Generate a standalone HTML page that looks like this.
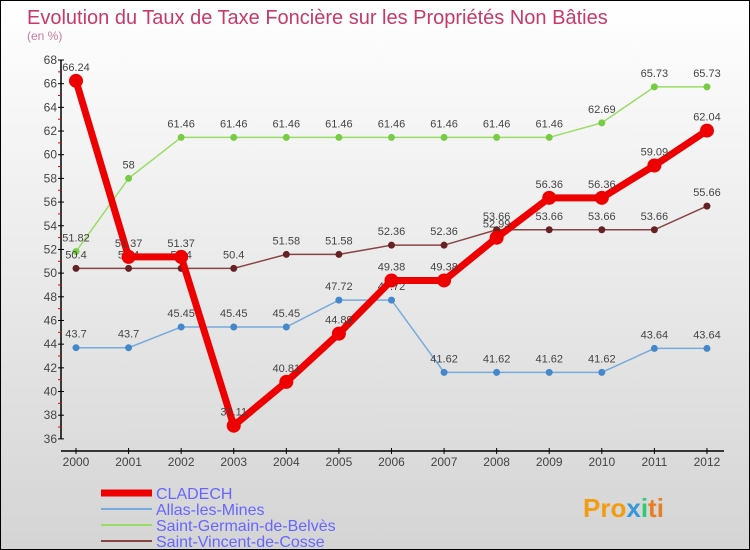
<!DOCTYPE html>
<html><head><meta charset="utf-8"><style>
body{margin:0}
#c{width:750px;height:550px;position:relative;box-sizing:border-box;border:1px solid #000;background:linear-gradient(#ffffff,#d4d4d4);overflow:hidden;font-family:"Liberation Sans",sans-serif}
</style></head><body>
<div id="c">
<svg id="s" width="748" height="548" xmlns="http://www.w3.org/2000/svg">
<text x="26" y="23" font-size="20" fill="#c8396a">Evolution du Taux de Taxe Foncière sur les Propriétés Non Bâties</text>
<text x="26" y="39" font-size="12" fill="#c87a9a">(en %)</text>
<g id="axes"></g><g id="series"></g><g id="legend"></g>
<text x="582" y="516" font-size="26" font-weight="bold" fill="#f39c12">Pro<tspan fill="#3498db">x</tspan><tspan fill="#2ecc71">i</tspan><tspan fill="#e67e22">ti</tspan></text>
</svg></div>
<script>
const years=["2000","2001","2002","2003","2004","2005","2006","2007","2008","2009","2010","2011","2012"];
const yTicks=[36,38,40,42,44,46,48,50,52,54,56,58,60,62,64,66,68];
const cladech=[66.24,51.37,51.37,37.11,40.81,44.89,49.38,49.38,52.99,56.36,56.36,59.09,62.04];
const allas=[43.7,43.7,45.45,45.45,45.45,47.72,47.72,41.62,41.62,41.62,41.62,43.64,43.64];
const germain=[51.82,58,61.46,61.46,61.46,61.46,61.46,61.46,61.46,61.46,62.69,65.73,65.73];
const vincent=[50.4,50.4,50.4,50.4,51.58,51.58,52.36,52.36,53.66,53.66,53.66,53.66,55.66];
const names=["CLADECH","Allas-les-Mines","Saint-Germain-de-Belvès","Saint-Vincent-de-Cosse"];
const NS="http://www.w3.org/2000/svg";
const X=i=>75+i*52.58, Y=v=>59+(68-v)*11.84;
function mk(t,a,p){const e=document.createElementNS(NS,t);for(const k in a)e.setAttribute(k,a[k]);p.appendChild(e);return e;}
const ax=document.getElementById('axes');
let l=mk('line',{x1:60,y1:Y(68),x2:60,y2:Y(36),stroke:'#000','stroke-width':1.5},ax);


l=mk('line',{x1:60,y1:450,x2:723,y2:450,stroke:'#000','stroke-width':1.5},ax);


yTicks.forEach(v=>{
 mk('line',{x1:57,x2:63,y1:Y(v),y2:Y(v),stroke:'#000'},ax);
 if(v<68)mk('line',{x1:57,x2:60,y1:Y(v+1),y2:Y(v+1),stroke:'#e00'},ax);
 const t=mk('text',{x:56,y:Y(v)+4,'font-size':12,'text-anchor':'end',fill:'#444'},ax);t.textContent=v;
 
 
});
years.forEach((y,i)=>{
 mk('line',{x1:X(i),x2:X(i),y1:447,y2:453,stroke:'#000'},ax);
 const t=mk('text',{x:X(i),y:465,'font-size':12,'text-anchor':'middle',fill:'#444'},ax);t.textContent=y;
 
 
});
const sg=document.getElementById('series');
const defs=[[germain,'#99dd66','#77cc44',1.5,3.5,'saint-germain'],[allas,'#77aadd','#4488cc',1.5,3.5,'allas'],[vincent,'#884444','#662222',1.5,3.5,'saint-vincent'],[cladech,'#ee0000','#ee0000',7,7,'cladech']];
defs.forEach(([d,c,pc,w,r,n])=>{
 const g=mk('g',{},sg);
 
 
 const p=mk('polyline',{points:d.map((v,i)=>X(i)+','+Y(v)).join(' '),fill:'none',stroke:c,'stroke-width':w},g);
 
 
 d.forEach((v,i)=>{
  const ci=mk('circle',{cx:X(i),cy:Y(v),r:r,fill:pc},g);
  
  
  const t=mk('text',{x:X(i),y:Y(v)-10,'font-size':11,'text-anchor':'middle',fill:'#444'},g);t.textContent=v;
  
  
 });
});
const lg=document.getElementById('legend');
const lc=[['#ee0000',7],['#77aadd',2],['#99dd66',2],['#884444',2]];
names.forEach((n,i)=>{
 const y=492+i*16;
 const g=mk('g',{},lg);
 
 
 mk('line',{x1:100,x2:151,y1:y,y2:y,stroke:lc[i][0],'stroke-width':lc[i][1]},g);
 const t=mk('text',{x:155,y:y+6,'font-size':16,fill:'#6666ff'},g);t.textContent=n;
});
</script>
</body></html>
